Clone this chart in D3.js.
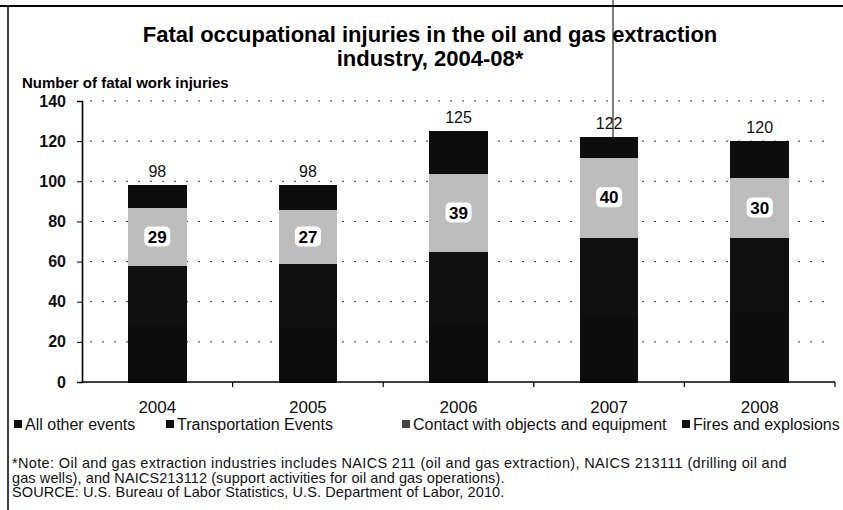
<!DOCTYPE html>
<html>
<head>
<meta charset="utf-8">
<script src="https://cdn.jsdelivr.net/npm/d3@7"></script>
<style>
  body { margin: 0; background: #fff; }
  svg { display: block; font-family: Arial, "Liberation Sans", sans-serif; }
</style>
</head>
<body>
<svg id="chart" width="843" height="510"></svg>
<script>
const years = ["2004", "2005", "2006", "2007", "2008"];
const seriesNames = ["All other events", "Transportation Events", "Contact with objects and equipment", "Fires and explosions"];
const allOther = [28, 27, 30, 33, 35];
const transport = [30, 32, 35, 39, 37];
const contact = [29, 27, 39, 40, 30];
const fires = [11, 12, 21, 10, 18];
const totals = [98, 98, 125, 122, 120];
const yTicks = [0, 20, 40, 60, 80, 100, 120, 140];
const noteLines = [
    "*Note: Oil and gas extraction industries includes NAICS 211 (oil and gas extraction), NAICS 213111 (drilling oil and",
    "gas wells), and NAICS213112 (support activities for oil and gas operations).",
    "SOURCE: U.S. Bureau of Labor Statistics, U.S. Department of Labor, 2010."
];

const colors = ["#0d0d0d", "#101010", "#bdbdbd", "#0d0d0d"];

const svg = d3.select("#chart");

// frame (scanned page edges)
svg.append("line").attr("x1", 0).attr("x2", 843).attr("y1", 6).attr("y2", 6)
    .attr("stroke", "#000").attr("stroke-width", 2);
svg.append("line").attr("x1", 8).attr("x2", 8).attr("y1", 6).attr("y2", 510)
    .attr("stroke", "#000").attr("stroke-width", 1.5);

// title
const title = svg.append("text")
    .attr("x", 430).attr("y", 42)
    .attr("text-anchor", "middle")
    .attr("font-size", "22px").attr("font-weight", "bold");
title.append("tspan").attr("x", 430).text("Fatal occupational injuries in the oil and gas extraction");
title.append("tspan").attr("x", 430).attr("dy", 24).text("industry, 2004-08*");

svg.append("text")
    .attr("x", 22).attr("y", 88)
    .attr("font-size", "15px").attr("font-weight", "bold")
    .text("Number of fatal work injuries");

const x = d3.scaleBand()
    .domain(years)
    .range([82, 835])
    .paddingInner(0.61)
    .paddingOuter(0.305);

const y = d3.scaleLinear()
    .domain([0, 140])
    .range([382, 101]);

// gridlines
svg.append("g")
    .selectAll("line")
    .data(yTicks.filter(d => d > 0))
    .join("line")
    .attr("x1", 90).attr("x2", 830)
    .attr("y1", d => y(d)).attr("y2", d => y(d))
    .attr("stroke", "#333")
    .attr("stroke-width", 1)
    .attr("stroke-dasharray", "2,10");

// y axis
const yAxis = svg.append("g")
    .attr("transform", "translate(82,0)")
    .call(d3.axisLeft(y).tickValues(yTicks).tickSize(5).tickPadding(11));
yAxis.select(".domain").attr("stroke-width", 1.6);
yAxis.selectAll("text").attr("font-size", "16px").attr("font-weight", "bold").attr("fill", "#111");

// stacked bars
const rows = years.map((yr, i) => ({
    year: yr,
    [seriesNames[0]]: allOther[i],
    [seriesNames[1]]: transport[i],
    [seriesNames[2]]: contact[i],
    [seriesNames[3]]: fires[i]
}));
const stacked = d3.stack().keys(seriesNames)(rows);

svg.append("g")
    .attr("shape-rendering", "crispEdges")
    .selectAll("g")
    .data(stacked)
    .join("g")
    .attr("fill", (d, i) => colors[i])
    .selectAll("rect")
    .data(d => d)
    .join("rect")
    .attr("x", d => x(d.data.year))
    .attr("y", d => y(d[1]))
    .attr("width", x.bandwidth())
    .attr("height", d => y(d[0]) - y(d[1]) + 0.5);

// labels on contact segment
const contactLayer = stacked[2];
const lab = svg.append("g")
    .selectAll("g")
    .data(contactLayer)
    .join("g")
    .attr("transform", d => `translate(${x(d.data.year) + x.bandwidth() / 2},${(y(d[0]) + y(d[1])) / 2})`);
lab.append("rect")
    .attr("x", -13).attr("y", -10).attr("width", 26).attr("height", 20)
    .attr("rx", 5)
    .attr("fill", "#fff");
lab.append("text")
    .attr("text-anchor", "middle")
    .attr("dy", "0.36em")
    .attr("font-size", "17px").attr("font-weight", "bold")
    .text(d => d[1] - d[0]);

// totals
svg.append("g")
    .selectAll("text")
    .data(years)
    .join("text")
    .attr("x", d => x(d) + x.bandwidth() / 2)
    .attr("y", (d, i) => y(totals[i]) - 8)
    .attr("text-anchor", "middle")
    .attr("font-size", "16px")
    .attr("fill", "#111")
    .text((d, i) => totals[i]);

// x axis
svg.append("line")
    .attr("x1", 82).attr("x2", 835)
    .attr("y1", y(0)).attr("y2", y(0))
    .attr("stroke", "#000").attr("stroke-width", 1.6);
svg.append("g")
    .selectAll("line")
    .data(years)
    .join("line")
    .attr("x1", d => x(d) + x.bandwidth() + x.step() * x.paddingInner() / 2)
    .attr("x2", d => x(d) + x.bandwidth() + x.step() * x.paddingInner() / 2)
    .attr("y1", y(0)).attr("y2", y(0) + 5)
    .attr("stroke", "#000").attr("stroke-width", 1.2);
svg.append("g")
    .selectAll("text")
    .data(years)
    .join("text")
    .attr("x", d => x(d) + x.bandwidth() / 2)
    .attr("y", 413)
    .attr("text-anchor", "middle")
    .attr("font-size", "17px")
    .attr("fill", "#111")
    .text(d => d);

// scan artifact line
svg.append("line")
    .attr("x1", 613).attr("x2", 613)
    .attr("y1", 0).attr("y2", y(totals[3]))
    .attr("stroke", "#000").attr("stroke-width", 1);

// legend
const legendX = [14, 166, 402, 682];
const legend = svg.append("g")
    .selectAll("g")
    .data(seriesNames)
    .join("g")
    .attr("transform", (d, i) => `translate(${legendX[i]},430)`);
legend.append("rect")
    .attr("x", 0).attr("y", -10).attr("width", 8).attr("height", 8)
    .attr("fill", (d, i) => i === 2 ? "#444" : "#111");
legend.append("text")
    .attr("x", 11)
    .attr("font-size", "16px")
    .attr("fill", "#111")
    .text(d => d);

// note
svg.append("g")
    .selectAll("text")
    .data(noteLines)
    .join("text")
    .attr("x", 12)
    .attr("y", (d, i) => 468 + i * 14.5)
    .attr("font-size", "14.5px")
    .attr("letter-spacing", (d, i) => i === 0 ? "0.35px" : "0.1px")
    .attr("fill", "#111")
    .text(d => d);
</script>
</body>
</html>
